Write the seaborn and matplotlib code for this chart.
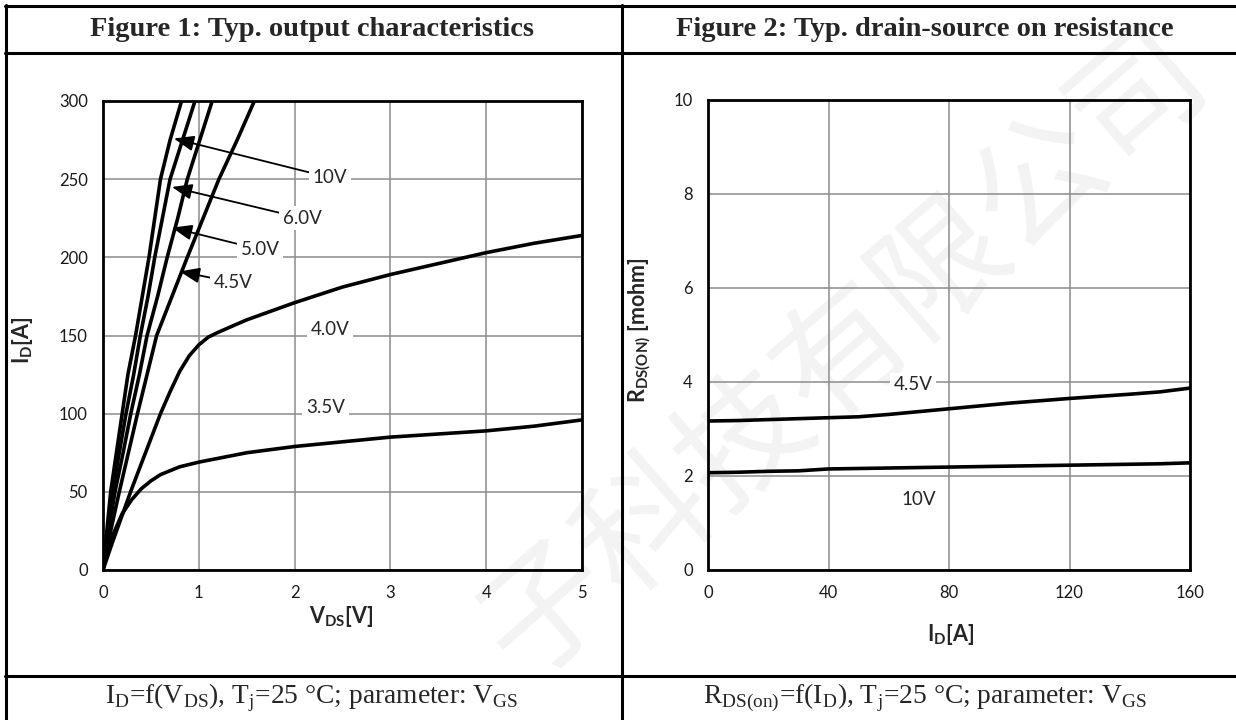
import pandas as pd
import seaborn as sns
import matplotlib.pyplot as plt
from matplotlib.lines import Line2D

# --------------------
# Figure 1 data: output characteristics, ID vs VDS per VGS
# --------------------
I_STEPS = [0, 25, 50, 75, 100, 125, 150, 175, 200, 225, 250, 275, 300]
VDS_10V = [0, 0.04, 0.08, 0.14, 0.20, 0.26, 0.34, 0.41, 0.48, 0.54, 0.60, 0.70, 0.82]
VDS_60V = [0, 0.05, 0.10, 0.17, 0.24, 0.32, 0.39, 0.47, 0.54, 0.62, 0.70, 0.83, 0.96]
VDS_50V = [0, 0.06, 0.125, 0.21, 0.29, 0.38, 0.46, 0.57, 0.67, 0.78, 0.88, 1.01, 1.14]
VDS_45V = [0, 0.08, 0.17, 0.265, 0.36, 0.46, 0.56, 0.72, 0.88, 1.045, 1.21, 1.40, 1.58]

VDS_40V = [0, 0.1, 0.2, 0.3, 0.4, 0.5, 0.6, 0.7, 0.8, 0.9, 1.0, 1.1, 1.2, 1.5, 2.0, 2.5, 3.0, 3.5, 4.0, 4.5, 5.0]
ID_40V = [0, 18, 35, 52, 68, 84, 100, 114, 127, 137, 144, 149, 152, 160, 171, 181, 189, 196, 203, 209, 214]

VDS_35V = [0, 0.05, 0.1, 0.2, 0.3, 0.4, 0.5, 0.6, 0.8, 1.0, 1.5, 2.0, 2.5, 3.0, 3.5, 4.0, 4.5, 5.0]
ID_35V = [0, 12, 22, 36, 45, 52, 57, 61, 66, 69, 75, 79, 82, 85, 87, 89, 92, 96]

# --------------------
# Figure 2 data: RDS(on) vs ID per VGS
# --------------------
ID_R = [0, 10, 20, 30, 40, 50, 60, 80, 100, 120, 140, 150, 160]
RDS_45V = [3.17, 3.18, 3.20, 3.22, 3.24, 3.26, 3.31, 3.43, 3.55, 3.65, 3.74, 3.79, 3.87]
RDS_10V = [2.07, 2.08, 2.10, 2.11, 2.15, 2.16, 2.17, 2.19, 2.21, 2.23, 2.25, 2.26, 2.28]

# labels
X1_TICKS = [0, 1, 2, 3, 4, 5]
Y1_TICKS = [0, 50, 100, 150, 200, 250, 300]
X2_TICKS = [0, 40, 80, 120, 160]
Y2_TICKS = [0, 2, 4, 6, 8, 10]

TITLE_1 = "Figure 1: Typ. output characteristics"
TITLE_2 = "Figure 2: Typ. drain-source on resistance"
CAPTION_1 = r"I$_\mathrm{D}$=f(V$_\mathrm{DS}$), T$_\mathrm{j}$=25 °C; parameter: V$_\mathrm{GS}$"
CAPTION_2 = r"R$_\mathrm{DS(on)}$=f(I$_\mathrm{D}$), T$_\mathrm{j}$=25 °C; parameter: V$_\mathrm{GS}$"

GRID_COLOR = "#8c8c8c"


def build_output_df():
    parts = []
    for name, v in [("10V", VDS_10V), ("6.0V", VDS_60V), ("5.0V", VDS_50V), ("4.5V", VDS_45V)]:
        parts.append(pd.DataFrame({"vds": v, "id": I_STEPS, "vgs": name}))
    parts.append(pd.DataFrame({"vds": VDS_40V, "id": ID_40V, "vgs": "4.0V"}))
    parts.append(pd.DataFrame({"vds": VDS_35V, "id": ID_35V, "vgs": "3.5V"}))
    return pd.concat(parts, ignore_index=True)


def build_rds_df():
    return pd.concat([
        pd.DataFrame({"id": ID_R, "rds": RDS_45V, "vgs": "4.5V"}),
        pd.DataFrame({"id": ID_R, "rds": RDS_10V, "vgs": "10V"}),
    ], ignore_index=True)


def style_axes(ax):
    ax.set_facecolor("none")
    ax.grid(True, color=GRID_COLOR, lw=1.1)
    ax.set_axisbelow(True)
    for sp in ax.spines.values():
        sp.set_visible(True)
        sp.set_color("black")
        sp.set_linewidth(2.0)
        sp.set_zorder(5)
    ax.tick_params(length=0, pad=11, labelsize=12, colors="#1a1a1a")


def main():
    sns.set_theme(style="white")
    plt.rcParams["font.family"] = ["Lato", "DejaVu Sans"]
    plt.rcParams["mathtext.fontset"] = "custom"
    plt.rcParams["mathtext.rm"] = "Liberation Serif"
    plt.rcParams["mathtext.bf"] = "Lato:bold"

    fig = plt.figure(figsize=(12.36, 7.2), dpi=100)

    # faint watermark behind everything
    fig.text(0.684, 0.507, "子科技有限公司", rotation=41, ha="center", va="center",
             fontsize=94, color="#f3f3f3", family=["Noto Sans CJK SC"], zorder=-1)

    # table frame
    W, H = 1236, 720
    def hline(y, x0, x1):
        fig.add_artist(Line2D([x0 / W, x1 / W], [1 - y / H, 1 - y / H], color="black", lw=2.2,
                              transform=fig.transFigure))
    def vline(x, y0, y1):
        fig.add_artist(Line2D([x / W, x / W], [1 - y0 / H, 1 - y1 / H], color="black", lw=2.2,
                              transform=fig.transFigure))
    hline(6, 5, W)
    hline(53, 5, W)
    hline(676, 5, W)
    vline(6, 5, H)
    vline(622, 5, H)

    serif = ["Liberation Serif", "DejaVu Serif"]
    fig.text(312 / W, 1 - 29 / H, TITLE_1, ha="center", va="center", fontsize=20.5,
             fontweight="bold", family=serif)
    fig.text(925 / W, 1 - 29 / H, TITLE_2, ha="center", va="center", fontsize=20.5,
             fontweight="bold", family=serif)
    fig.text(312 / W, 1 - 698 / H, CAPTION_1, ha="center", va="center", fontsize=19.8, family=serif)
    fig.text(925 / W, 1 - 698 / H, CAPTION_2, ha="center", va="center", fontsize=19.8, family=serif)

    # --- Figure 1 ---
    ax1 = fig.add_axes([103 / W, 1 - 570 / H, 479 / W, 469 / H])
    df1 = build_output_df()
    sns.lineplot(data=df1, x="vds", y="id", hue="vgs", units="vgs", estimator=None, sort=False,
                 palette={k: "black" for k in df1["vgs"].unique()}, linewidth=2.6,
                 legend=False, ax=ax1)
    style_axes(ax1)
    ax1.set_xlim(0, 5)
    ax1.set_ylim(0, 300)
    ax1.set_xticks(X1_TICKS)
    ax1.set_yticks(Y1_TICKS)
    ax1.set_xlabel(r"V$_\mathbf{DS}$[V]", fontsize=15.5, fontweight="bold")
    ax1.set_ylabel(r"I$_\mathbf{D}$[A]", fontsize=15.5, fontweight="bold")
    ax1.xaxis.set_label_coords(0.497, -0.072)
    ax1.yaxis.set_label_coords(-0.142, 0.49)

    box = dict(boxstyle="square,pad=0.2", fc="white", ec="none")
    arrow = dict(arrowstyle="-|>,head_length=0.9,head_width=0.35", color="black", lw=1.3,
                 shrinkA=0, shrinkB=0)
    for label, head, text in [("10V", (0.74, 276), (2.37, 251)),
                              ("6.0V", (0.72, 245), (2.08, 225)),
                              ("5.0V", (0.72, 219), (1.64, 205)),
                              ("4.5V", (0.80, 191), (1.36, 184))]:
        ax1.annotate(label, xy=head, xytext=text, ha="center", va="center", fontsize=13.5,
                     bbox=box, arrowprops=arrow, zorder=4)
    ax1.text(2.37, 154, "4.0V", ha="center", va="center", fontsize=13.5, bbox=box, zorder=4)
    ax1.text(2.32, 104, "3.5V", ha="center", va="center", fontsize=13.5, bbox=box, zorder=4)

    # --- Figure 2 ---
    ax2 = fig.add_axes([708 / W, 1 - 570 / H, 482 / W, 470 / H])
    df2 = build_rds_df()
    sns.lineplot(data=df2, x="id", y="rds", hue="vgs", estimator=None, sort=False,
                 palette={"4.5V": "black", "10V": "black"}, linewidth=2.6,
                 legend=False, ax=ax2)
    style_axes(ax2)
    ax2.set_xlim(0, 160)
    ax2.set_ylim(0, 10)
    ax2.set_xticks(X2_TICKS)
    ax2.set_yticks(Y2_TICKS)
    ax2.set_xlabel(r"I$_\mathbf{D}$[A]", fontsize=15.5, fontweight="bold")
    ax2.set_ylabel(r"R$_\mathbf{DS(ON)}$ [mohm]", fontsize=15.5, fontweight="bold")
    ax2.xaxis.set_label_coords(0.504, -0.111)
    ax2.yaxis.set_label_coords(-0.115, 0.51)
    ax2.text(68, 3.94, "4.5V", ha="center", va="center", fontsize=13.5, bbox=box, zorder=4)
    ax2.text(70, 1.49, "10V", ha="center", va="center", fontsize=13.5, bbox=box, zorder=4)

    fig.savefig("out.png", dpi=100, facecolor="white")
    plt.close(fig)


if __name__ == "__main__":
    main()
